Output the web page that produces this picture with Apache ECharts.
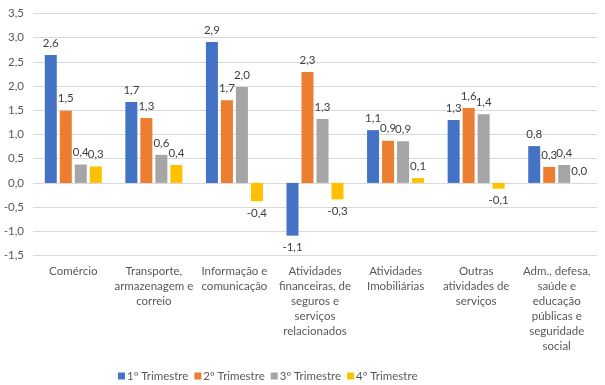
<!DOCTYPE html>
<html>
<head>
<meta charset="utf-8">
<script src="https://cdn.jsdelivr.net/npm/echarts@6/dist/echarts.min.js"></script>
<style>html,body{margin:0;padding:0;background:#fff}#c{width:605px;height:385px}</style>
</head>
<body>
<div id="c"></div>
<script>
const categories = [
  "Comércio",
  "Transporte,\narmazenagem e\ncorreio",
  "Informação e\ncomunicação",
  "Atividades\nfinanceiras, de\nseguros e\nserviços\nrelacionados",
  "Atividades\nImobiliárias",
  "Outras\natividades de\nserviços",
  "Adm., defesa,\nsaúde e\neducação\npúblicas e\nseguridade\nsocial"
];
const seriesNames = ["1º Trimestre", "2º Trimestre", "3º Trimestre", "4º Trimestre"];
const t1 = [2.64, 1.67, 2.91, -1.09, 1.09, 1.30, 0.76];
const t2 = [1.49, 1.34, 1.71, 2.29, 0.87, 1.55, 0.33];
const t3 = [0.38, 0.58, 1.98, 1.32, 0.86, 1.42, 0.37];
const t4 = [0.34, 0.37, -0.38, -0.34, 0.10, -0.12, 0.0];
const colors = ["#4472C4", "#ED7D31", "#A5A5A5", "#FFC000"];
const yTicks = { min: -1.5, max: 3.5, interval: 0.5 };

const fmt = v => (Math.round(v * 10) / 10).toFixed(1).replace('.', ',');
const allSeries = [t1, t2, t3, t4];
const FONT = 'Lato, "Liberation Sans", sans-serif';
const FS = 11.5;

const chart = echarts.init(document.getElementById('c'));
chart.setOption({
  animation: false,
  textStyle: { fontFamily: FONT },
  grid: { left: 33, right: 8, top: 13.5, bottom: 129.5, containLabel: false },
  legend: {
    data: seriesNames,
    left: 113,
    top: 365,
    itemWidth: 7,
    itemHeight: 7,
    itemGap: 6,
    icon: 'rect',
    textStyle: { color: '#595959', fontSize: FS, fontFamily: FONT, padding: [0, 0, 0, -3] }
  },
  xAxis: {
    type: 'category',
    data: categories,
    axisLine: { show: false, onZero: false },
    axisTick: { show: false },
    axisLabel: { color: '#595959', fontSize: FS, lineHeight: 15, margin: 8, interval: 0, fontFamily: FONT }
  },
  yAxis: {
    type: 'value',
    min: yTicks.min, max: yTicks.max, interval: yTicks.interval,
    axisLine: { show: false },
    axisTick: { show: false },
    splitLine: { lineStyle: { color: '#D9D9D9', width: 1 } },
    axisLabel: { color: '#595959', fontSize: FS, margin: 9, fontFamily: FONT, formatter: v => fmt(v) }
  },
  series: allSeries.map((arr, i) => ({
    name: seriesNames[i],
    type: 'bar',
    barWidth: 12,
    barGap: '25%',
    itemStyle: { color: colors[i] },
    data: arr.map(v => ({
      value: v,
      label: { position: v < 0 ? 'bottom' : 'top' }
    })),
    label: {
      show: true,
      distance: 6,
      color: '#404040',
      fontSize: FS,
      fontFamily: FONT,
      formatter: p => fmt(p.value)
    }
  }))
});
</script>
</body>
</html>
